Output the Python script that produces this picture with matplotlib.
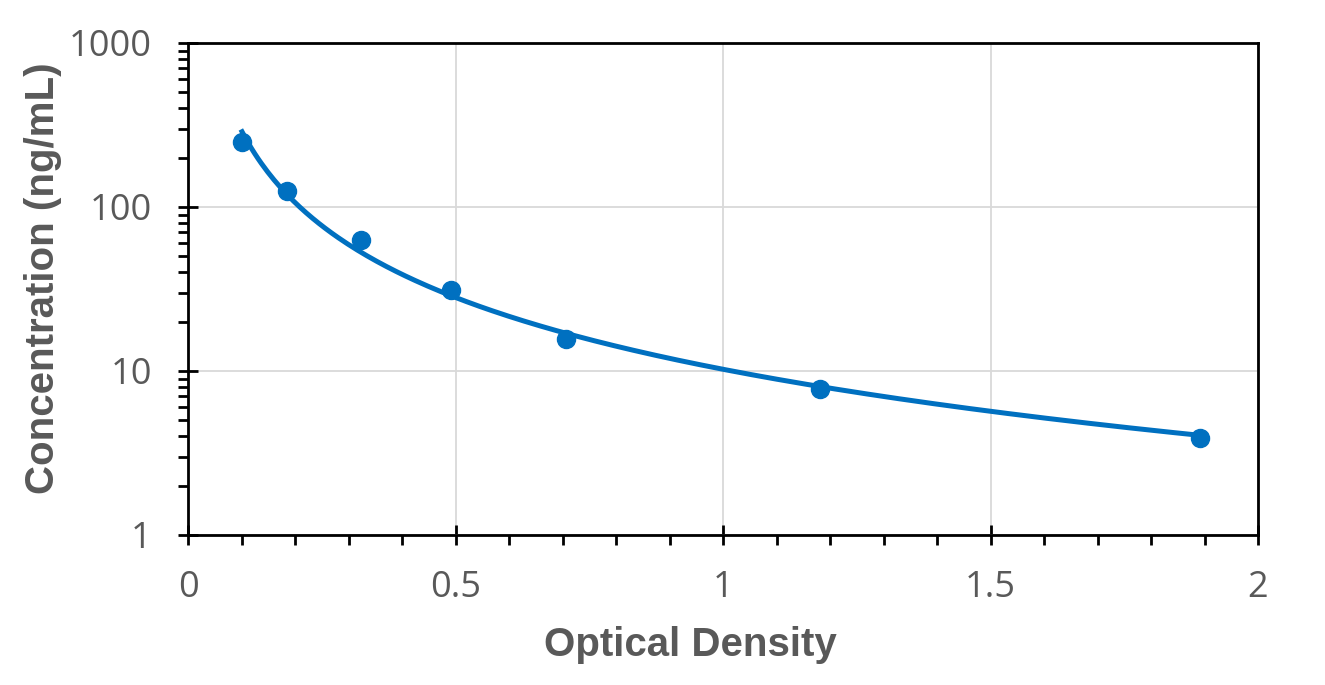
import numpy as np
import matplotlib
matplotlib.use("Agg")
import matplotlib.pyplot as plt
from matplotlib.ticker import MultipleLocator, LogLocator, NullFormatter, FuncFormatter

od = [0.101, 0.185, 0.323, 0.492, 0.707, 1.181, 1.892]
conc = [250, 125, 62.5, 31.25, 15.6, 7.8, 3.9]

x_ticks = [0, 0.5, 1, 1.5, 2]
y_ticks = [1, 10, 100, 1000]

color = "#0070C0"
gray = "#595959"

W, H = 1325, 685
fig = plt.figure(figsize=(W/100, H/100), dpi=100)
ax = fig.add_axes([188/W, 1-535/H, (1258-188)/W, (535-43)/H])

# power trendline fitted in log-log space
b, loga = np.polyfit(np.log(od), np.log(conc), 1)
xs = np.linspace(min(od), max(od), 300)
ax.plot(xs, np.exp(loga) * xs ** b, color=color, lw=3.6, zorder=3)
ax.plot(od, conc, 'o', color=color, ms=13, zorder=4)

ax.set_yscale('log')
ax.set_xlim(0, 2)
ax.set_ylim(1, 1000)
ax.set_xticks(x_ticks)
ax.set_yticks(y_ticks)
ax.xaxis.set_major_formatter(FuncFormatter(lambda v, p: f"{v:g}"))
ax.yaxis.set_major_formatter(FuncFormatter(lambda v, p: f"{v:g}"))
ax.xaxis.set_minor_locator(MultipleLocator(0.1))
ax.yaxis.set_minor_locator(LogLocator(base=10, subs=np.arange(2, 10)))
ax.yaxis.set_minor_formatter(NullFormatter())

ax.grid(True, which='major', color='#d9d9d9', lw=1.3, zorder=0)
for s in ax.spines.values():
    s.set_color('black')
    s.set_linewidth(2)

ax.tick_params(axis='x', which='major', direction='inout', length=14, width=2,
               colors='black', labelcolor=gray, labelsize=26, pad=18)
ax.tick_params(axis='y', which='major', direction='inout', length=14, width=2,
               colors='black', labelcolor=gray, labelsize=26, pad=19)
ax.tick_params(axis='both', which='minor', direction='out', length=7, width=2, colors='black')

font = 'Open Sans'
for lbl in ax.get_xticklabels() + ax.get_yticklabels():
    lbl.set_fontfamily(font)

lab_font = 'Liberation Sans'
fig.text(690/W, 1-645/H, 'Optical Density', fontsize=29, fontweight='bold', color=gray,
         family=lab_font, ha='center', va='center')
fig.text(43/W, 1-278/H, 'Concentration (ng/mL)', fontsize=29, fontweight='bold', color=gray,
         family=lab_font, ha='center', va='center', rotation=90)

fig.savefig('out.png', dpi=100)
